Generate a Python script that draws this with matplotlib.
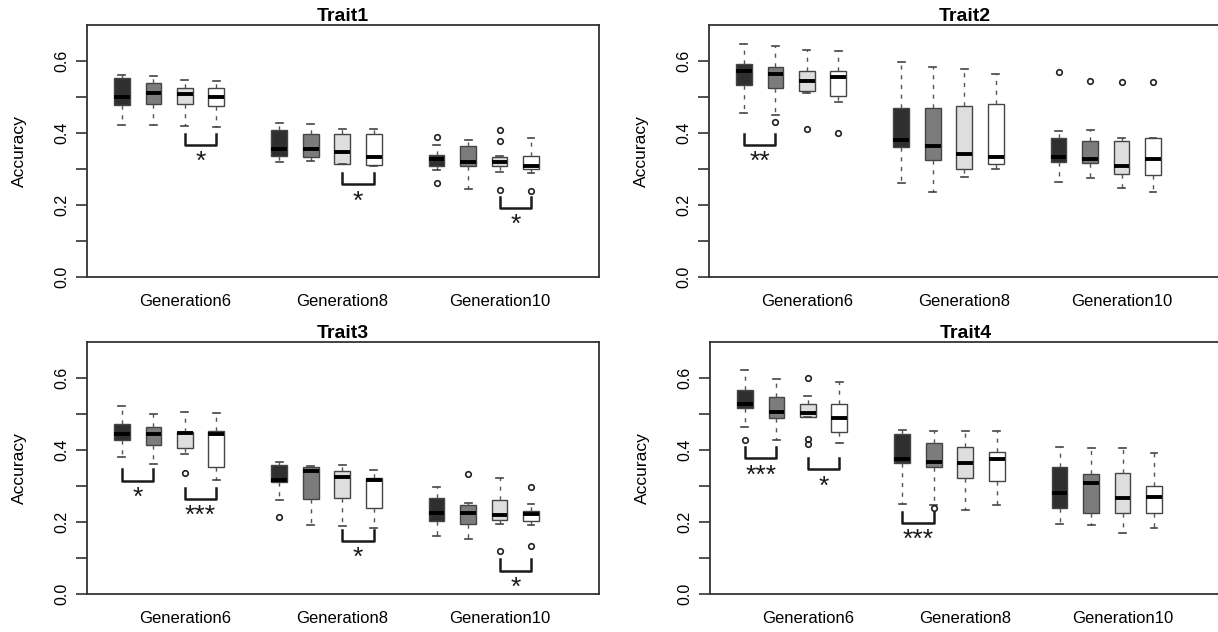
import matplotlib
matplotlib.use('Agg')
import matplotlib.pyplot as plt
import numpy as np

plt.rcParams['font.family'] = ['Liberation Sans', 'DejaVu Sans']

generations = ['Generation6', 'Generation8', 'Generation10']
traits = ['Trait1', 'Trait2', 'Trait3', 'Trait4']

# 12 boxes per trait: Gen6 x4, Gen8 x4, Gen10 x4
t1_whislo = [0.422, 0.422, 0.420, 0.417, 0.319, 0.323, 0.314, 0.309, 0.297, 0.244, 0.291, 0.288]
t1_q1 = [0.478, 0.481, 0.481, 0.475, 0.337, 0.333, 0.314, 0.312, 0.309, 0.309, 0.309, 0.300]
t1_med = [0.501, 0.512, 0.508, 0.499, 0.355, 0.355, 0.346, 0.333, 0.327, 0.319, 0.319, 0.309]
t1_q3 = [0.552, 0.540, 0.526, 0.524, 0.408, 0.398, 0.396, 0.398, 0.339, 0.364, 0.332, 0.336]
t1_whishi = [0.561, 0.558, 0.547, 0.545, 0.429, 0.426, 0.410, 0.410, 0.367, 0.381, 0.335, 0.387]
t1_fliers = [[], [], [], [], [], [], [], [], [0.390, 0.260], [], [0.408, 0.378, 0.242], [0.240]]

t2_whislo = [0.456, 0.449, 0.510, 0.487, 0.261, 0.235, 0.279, 0.300, 0.263, 0.274, 0.248, 0.235]
t2_q1 = [0.533, 0.525, 0.518, 0.504, 0.360, 0.325, 0.300, 0.313, 0.320, 0.316, 0.286, 0.283]
t2_med = [0.572, 0.563, 0.545, 0.556, 0.380, 0.365, 0.343, 0.334, 0.334, 0.328, 0.309, 0.328]
t2_q3 = [0.593, 0.584, 0.571, 0.571, 0.469, 0.469, 0.476, 0.481, 0.387, 0.379, 0.379, 0.385]
t2_whishi = [0.646, 0.643, 0.630, 0.627, 0.597, 0.583, 0.577, 0.565, 0.406, 0.408, 0.385, 0.387]
t2_fliers = [[], [0.431], [0.412], [0.401], [], [], [], [], [0.569], [0.544], [0.543], [0.543]]

t3_whislo = [0.380, 0.362, 0.389, 0.318, 0.261, 0.191, 0.188, 0.183, 0.160, 0.154, 0.195, 0.192]
t3_q1 = [0.429, 0.415, 0.406, 0.353, 0.311, 0.264, 0.266, 0.240, 0.202, 0.195, 0.206, 0.203]
t3_med = [0.444, 0.444, 0.447, 0.444, 0.316, 0.342, 0.325, 0.316, 0.224, 0.224, 0.220, 0.222]
t3_q3 = [0.472, 0.464, 0.451, 0.453, 0.357, 0.353, 0.343, 0.322, 0.266, 0.247, 0.261, 0.231]
t3_whishi = [0.522, 0.499, 0.506, 0.502, 0.366, 0.355, 0.359, 0.345, 0.298, 0.254, 0.321, 0.249]
t3_fliers = [[], [], [0.337], [], [0.213], [], [], [], [], [0.334], [0.119], [0.298, 0.133]]

t4_whislo = [0.465, 0.428, 0.492, 0.419, 0.249, 0.247, 0.232, 0.247, 0.195, 0.192, 0.169, 0.183]
t4_q1 = [0.516, 0.488, 0.492, 0.451, 0.365, 0.353, 0.322, 0.313, 0.240, 0.226, 0.224, 0.224]
t4_med = [0.527, 0.506, 0.504, 0.490, 0.374, 0.366, 0.365, 0.374, 0.281, 0.309, 0.267, 0.270]
t4_q3 = [0.568, 0.547, 0.527, 0.529, 0.444, 0.419, 0.409, 0.394, 0.353, 0.333, 0.336, 0.300]
t4_whishi = [0.621, 0.597, 0.550, 0.588, 0.456, 0.453, 0.453, 0.453, 0.409, 0.406, 0.406, 0.392]
t4_fliers = [[0.429], [], [0.600, 0.431, 0.417], [], [], [0.238], [], [], [], [], [], []]

# significance brackets: (first box index, label, bracket top)
t1_sig = [(2, '*', 0.398), (6, '*', 0.289), (10, '*', 0.223)]
t2_sig = [(0, '**', 0.398)]
t3_sig = [(0, '*', 0.346), (2, '***', 0.295), (6, '*', 0.179), (10, '*', 0.096)]
t4_sig = [(0, '***', 0.408), (2, '*', 0.378), (4, '***', 0.229)]

data = [
    (t1_whislo, t1_q1, t1_med, t1_q3, t1_whishi, t1_fliers, t1_sig),
    (t2_whislo, t2_q1, t2_med, t2_q3, t2_whishi, t2_fliers, t2_sig),
    (t3_whislo, t3_q1, t3_med, t3_q3, t3_whishi, t3_fliers, t3_sig),
    (t4_whislo, t4_q1, t4_med, t4_q3, t4_whishi, t4_fliers, t4_sig),
]

positions = [1, 2, 3, 4, 6, 7, 8, 9, 11, 12, 13, 14]
label_pos = [3, 8, 13]
fills = ['#2f2f2f', '#7c7c7c', '#dedede', '#ffffff']

W, H = 1218, 632
fig = plt.figure(figsize=(W / 100, H / 100), dpi=100)
# axes rectangles in pixels: left, top, width, height
rects = [(87, 25, 512, 252), (709, 25, 512, 252), (87, 342, 512, 252), (710, 342, 512, 252)]

for rect, title, d in zip(rects, traits, data):
    l, t, w, h = rect
    ax = fig.add_axes([l / W, 1 - (t + h) / H, w / W, h / H])
    whislo, q1, med, q3, whishi, fliers, sig = d
    stats = []
    for i in range(12):
        stats.append(dict(whislo=whislo[i], q1=q1[i], med=med[i], q3=q3[i],
                          whishi=whishi[i], fliers=fliers[i]))
    bp = ax.bxp(stats, positions=positions, widths=0.5, capwidths=0.22,
                patch_artist=True, showfliers=True,
                boxprops=dict(edgecolor='#444444', linewidth=1.0),
                whiskerprops=dict(color='#555555', linewidth=1.0, linestyle=(0, (3, 4))),
                capprops=dict(color='#444444', linewidth=1.2),
                medianprops=dict(color='black', linewidth=2.8, solid_capstyle='butt'),
                flierprops=dict(marker='o', markersize=4, markerfacecolor='none',
                                markeredgecolor='#222222', markeredgewidth=1.2))
    for i, patch in enumerate(bp['boxes']):
        patch.set_facecolor(fills[i % 4])

    for i0, lab, ytop in sig:
        x0, x1 = positions[i0], positions[i0 + 1]
        ybot = ytop - 0.031
        ax.plot([x0, x0, x1, x1], [ytop, ybot, ybot, ytop], color='#1a1a1a', lw=1.8)
        ax.text((x0 + x1) / 2, ybot - 0.048, lab,
                ha='center', va='center', fontsize=19, color='#1a1a1a')

    ax.set_xlim(-0.11, 16.16)
    ax.set_ylim(0, 0.7)
    ax.set_yticks(np.arange(0, 0.61, 0.1))
    ax.set_yticklabels(['0.0', '', '0.2', '', '0.4', '', '0.6'], rotation=90, va='center')
    ax.tick_params(axis='y', length=8, width=1.2, color='#333333', labelsize=11.5, pad=5)
    ax.set_xticks(label_pos)
    ax.set_xticklabels(generations)
    ax.tick_params(axis='x', length=0, labelsize=12, pad=12)
    for s in ax.spines.values():
        s.set_linewidth(1.3)
        s.set_color('#333333')
    ax.set_ylabel('Accuracy', fontsize=12.5)
    ax.yaxis.set_label_coords(-0.118, 0.5)
    ax.set_title(title, fontsize=14, fontweight='bold', pad=1)

fig.savefig('out.png', dpi=100)
